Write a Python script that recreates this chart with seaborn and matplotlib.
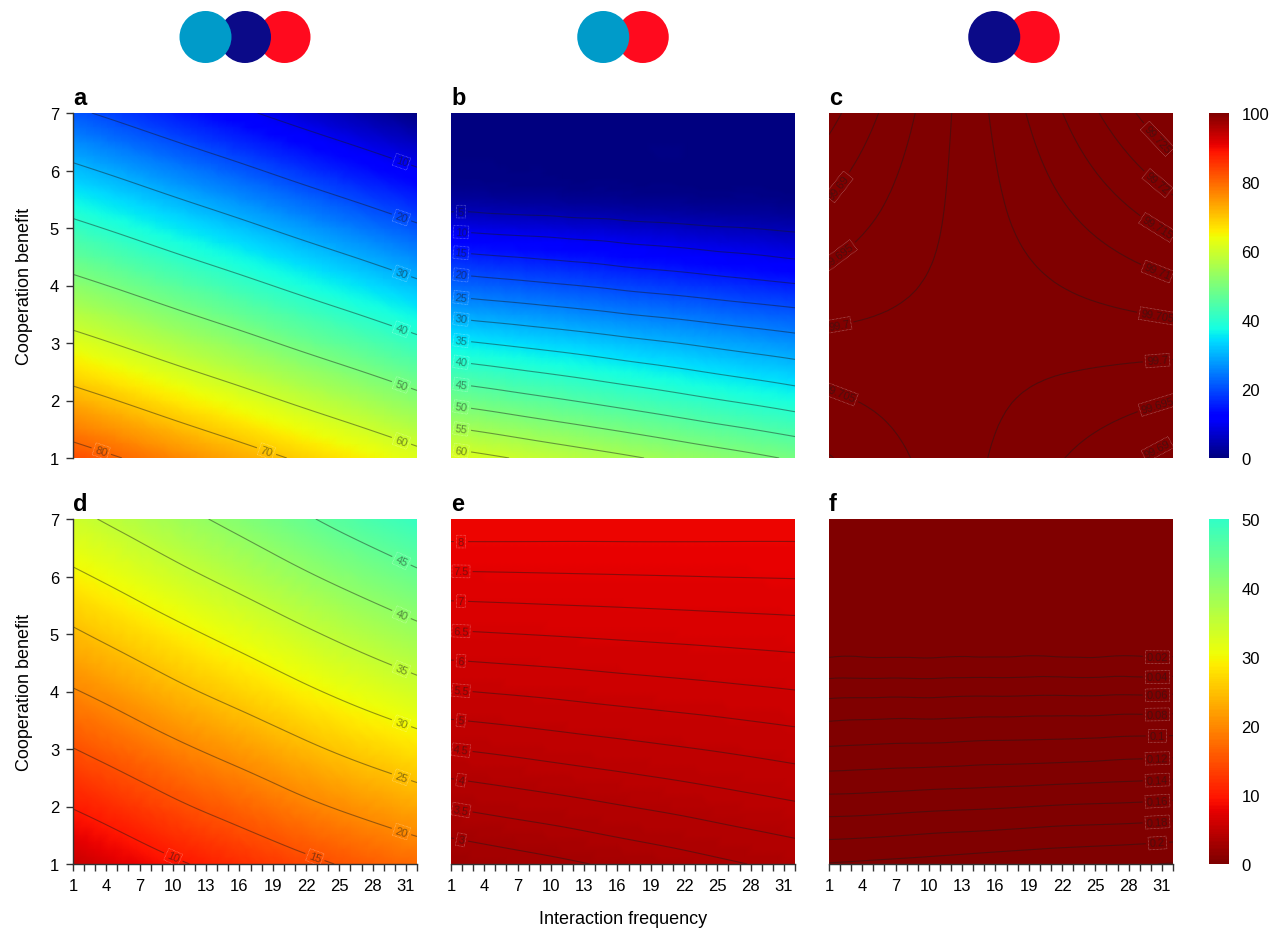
import numpy as np
import matplotlib
matplotlib.use('Agg')
import matplotlib.pyplot as plt
import seaborn as sns
from matplotlib.colors import ListedColormap, Normalize
from matplotlib.cm import ScalarMappable
from matplotlib.patches import Circle
from matplotlib.tri import Triangulation, UniformTriRefiner

# grid nodes (interaction frequency across, cooperation benefit up)
freq = [1, 6, 11, 16, 21, 26, 32]
benefit = [1, 2, 3, 4, 5, 6, 7]
benefit_b = [1, 2, 3, 4, 5, 5.5, 6, 7]

# values, rows = benefit from bottom to top
coop_a = [
    [82.9, 79.6, 76.2, 72.9, 69.5, 66.2, 62.1],
    [72.6, 69.3, 65.9, 62.6, 59.2, 55.9, 51.8],
    [62.3, 59.0, 55.6, 52.3, 48.9, 45.6, 41.5],
    [52.0, 48.7, 45.3, 42.0, 38.6, 35.3, 31.2],
    [41.7, 38.4, 35.0, 31.7, 28.3, 25.0, 20.9],
    [31.4, 28.1, 24.7, 21.4, 18.0, 14.7, 10.6],
    [21.1, 17.8, 14.4, 11.1, 7.7, 4.4, 0.3],
]
coop_b = [
    [62.1, 60.1, 58.0, 56.0, 53.9, 51.9, 49.4],
    [48.9, 47.1, 45.3, 43.5, 41.7, 39.9, 37.8],
    [35.9, 34.4, 33.0, 31.5, 30.1, 28.6, 26.9],
    [22.6, 21.4, 20.3, 19.1, 18.0, 16.8, 15.4],
    [9.1, 8.3, 7.6, 6.8, 6.0, 5.2, 4.3],
    [2.5, 2.2, 1.9, 1.6, 1.3, 1.0, 0.6],
    [0.4, 0.4, 0.3, 0.3, 0.3, 0.2, 0.2],
    [0.0, 0.0, 0.0, 0.0, 0.0, 0.0, 0.0],
]
coop_c = [
    [99.7103, 99.7067, 99.7031, 99.6995, 99.6959, 99.6923, 99.6880],
    [99.7058, 99.7041, 99.7023, 99.7006, 99.6988, 99.6971, 99.6950],
    [99.7013, 99.7014, 99.7015, 99.7016, 99.7018, 99.7019, 99.7020],
    [99.6968, 99.6988, 99.7007, 99.7027, 99.7047, 99.7066, 99.7090],
    [99.6923, 99.6961, 99.6999, 99.7038, 99.7076, 99.7114, 99.7160],
    [99.6878, 99.6935, 99.6992, 99.7048, 99.7105, 99.7162, 99.7230],
    [99.6833, 99.6908, 99.6984, 99.7059, 99.7134, 99.7210, 99.7300],
]
sub_d = [
    [5.5, 7.7, 9.8, 11.8, 13.7, 15.5, 17.4],
    [10.2, 12.4, 14.7, 16.7, 18.8, 20.7, 22.8],
    [14.9, 17.2, 19.5, 21.6, 23.8, 25.9, 28.1],
    [19.7, 22.0, 24.4, 26.6, 28.9, 31.1, 33.5],
    [24.4, 26.8, 29.2, 31.5, 33.9, 36.2, 38.8],
    [29.2, 31.6, 34.1, 36.5, 39.0, 41.4, 44.2],
    [33.9, 36.4, 38.9, 41.4, 44.0, 46.6, 49.5],
]
sub_e = [
    [2.56, 2.74, 2.91, 3.09, 3.26, 3.44, 3.65],
    [3.53, 3.68, 3.82, 3.97, 4.11, 4.26, 4.43],
    [4.50, 4.61, 4.73, 4.84, 4.95, 5.06, 5.20],
    [5.47, 5.55, 5.63, 5.72, 5.80, 5.88, 5.98],
    [6.44, 6.49, 6.54, 6.59, 6.64, 6.69, 6.75],
    [7.41, 7.43, 7.45, 7.47, 7.49, 7.51, 7.53],
    [8.38, 8.37, 8.35, 8.34, 8.33, 8.31, 8.30],
]
sub_f = [
    [0.201, 0.204, 0.207, 0.211, 0.214, 0.217, 0.221],
    [0.151, 0.153, 0.156, 0.158, 0.161, 0.163, 0.166],
    [0.102, 0.104, 0.105, 0.107, 0.108, 0.110, 0.112],
    [0.053, 0.054, 0.054, 0.055, 0.056, 0.056, 0.057],
    [0.004, 0.004, 0.004, 0.004, 0.004, 0.004, 0.004],
    [0.001, 0.001, 0.001, 0.001, 0.001, 0.001, 0.001],
    [0.000, 0.000, 0.000, 0.000, 0.000, 0.000, 0.000],
]

levels_a = [10, 20, 30, 40, 50, 60, 70, 80]
levels_b = [5, 10, 15, 20, 25, 30, 35, 40, 45, 50, 55, 60]
levels_c = [99.685, 99.69, 99.695, 99.7, 99.705, 99.71, 99.715, 99.72, 99.725, 99.73]
levels_d = [10, 15, 20, 25, 30, 35, 40, 45]
levels_e = [3, 3.5, 4, 4.5, 5, 5.5, 6, 6.5, 7, 7.5, 8]
levels_f = [0.02, 0.04, 0.06, 0.08, 0.1, 0.12, 0.14, 0.16, 0.18, 0.2, 0.22]

freq_labels = [1, 4, 7, 10, 13, 16, 19, 22, 25, 28, 31]
benefit_ticks = [1, 2, 3, 4, 5, 6, 7]
top_ticks = [0, 20, 40, 60, 80, 100]
bottom_ticks = [0, 10, 20, 30, 40, 50]

# strain symbols above each column
strain_colors = {'cyan': '#009BC9', 'navy': '#0B0A88', 'red': '#FF0A1E'}
groups = [['cyan', 'navy', 'red'], ['cyan', 'red'], ['navy', 'red']]
group_x = [245, 623, 1014]

sns.set_theme(style='ticks')
plt.rcParams['font.family'] = ['Liberation Sans', 'DejaVu Sans']
plt.rcParams.update({'text.color': 'black', 'axes.labelcolor': 'black',
                     'xtick.labelcolor': 'black', 'ytick.labelcolor': 'black'})

jet = matplotlib.colormaps['jet']
jet_low = ListedColormap(jet(np.linspace(1.0, 0.41, 256)))

W, H = 1270, 929
fig = plt.figure(figsize=(W / 100, H / 100), dpi=100)


def px_box(left, top, w, h):
    return [left / W, (H - top - h) / H, w / W, h / H]


def label_contours(ax, cs, x_at, keep=None, bottom=None):
    pts = []
    for level, path in zip(cs.levels, cs.get_paths()):
        if keep is not None and not (keep[0] - 1e-9 <= level <= keep[1] + 1e-9):
            continue
        for seg in path.to_polygons(closed_only=False):
            if len(seg) < 2:
                continue
            xs, ys = seg[:, 0], seg[:, 1]
            for xt in x_at:
                if xs.min() <= xt <= xs.max():
                    o = np.argsort(xs)
                    pts.append((xt, np.interp(xt, xs[o], ys[o])))
                elif bottom is not None and ys.min() <= bottom <= ys.max():
                    o = np.argsort(ys)
                    pts.append((np.interp(bottom, ys[o], xs[o]), bottom))
    if not pts:
        return
    ax.clabel(cs, manual=pts, inline=True, inline_spacing=4, fmt='%g', fontsize=8)
    for t in cs.labelTexts:
        t.set_color('k')
        t.set_alpha(0.5)
        t.set_bbox(dict(boxstyle='square,pad=0.12', fc='none', ec='white',
                        lw=0.5, ls=(0, (1, 1)), alpha=0.45))


panels = [
    ('a', benefit, coop_a, levels_a, jet, 0, 100, dict(x_at=[30.6], bottom=1.12)),
    ('b', benefit_b, coop_b, levels_b, jet, 0, 100, dict(x_at=[1.9])),
    ('c', benefit, coop_c, levels_c, jet, 0, 100, dict(x_at=[1.9, 30.6], keep=(99.69, 99.725))),
    ('d', benefit, sub_d, levels_d, jet_low, 0, 50, dict(x_at=[30.6], bottom=1.12)),
    ('e', benefit, sub_e, levels_e, jet_low, 0, 50, dict(x_at=[1.9])),
    ('f', benefit, sub_f, levels_f, jet_low, 0, 50, dict(x_at=[30.6])),
]

col_left = [73, 451, 829]
row_top = [114, 520]
size = 345
axes = []
for i, (name, ys, z, levels, cmap, vmin, vmax, lab) in enumerate(panels):
    r, c = divmod(i, 3)
    ax = fig.add_axes(px_box(col_left[c], row_top[r], size - 1, size))
    axes.append(ax)
    X, Y = np.meshgrid(freq, ys)
    tri = Triangulation(X.ravel(), Y.ravel())
    tri_f, z_f = UniformTriRefiner(tri).refine_field(np.array(z).ravel(), subdiv=3)
    ax.tripcolor(tri_f, z_f, shading='gouraud', cmap=cmap, vmin=vmin, vmax=vmax)
    cs = ax.tricontour(tri_f, z_f, levels=levels, colors='k', linewidths=0.8, alpha=0.45)
    label_contours(ax, cs, **lab)
    ax.set_xlim(1, 32)
    ax.set_ylim(1, 7)

    for side in ['top', 'right']:
        ax.spines[side].set_visible(False)
    ax.spines['left'].set_visible(c == 0)
    ax.spines['bottom'].set_visible(r == 1)
    for side in ['left', 'bottom']:
        ax.spines[side].set_color('#333333')
        ax.spines[side].set_linewidth(1.0)

    ax.tick_params(direction='out', length=5, width=1.0, color='#333333',
                   labelsize=12, pad=5)
    if c == 0:
        ax.set_yticks(benefit_ticks)
        ax.set_ylabel('Cooperation benefit', fontsize=13, labelpad=12)
    else:
        ax.set_yticks([])
    if r == 1:
        ticks = np.arange(1, 33)
        ax.set_xticks(ticks)
        ax.set_xticklabels([str(t) if t in freq_labels else '' for t in ticks])
    else:
        ax.set_xticks([])
    if i == 4:
        ax.set_xlabel('Interaction frequency', fontsize=13, labelpad=12)

    ax.text(0.0, 1.012, name, transform=ax.transAxes, fontsize=17,
            fontweight='bold', ha='left', va='bottom')

# colorbars
for r, (cmap, vmax, ticks) in enumerate([(jet, 100, top_ticks), (jet_low, 50, bottom_ticks)]):
    cax = fig.add_axes(px_box(1209, row_top[r], 20, size))
    cb = fig.colorbar(ScalarMappable(norm=Normalize(0, vmax), cmap=cmap), cax=cax)
    cb.set_ticks(ticks)
    cb.outline.set_visible(False)
    cax.tick_params(length=0, labelsize=12, pad=9)

# strain symbols
deco = fig.add_axes([0, 0, 1, 1], zorder=5)
deco.set_xlim(0, W)
deco.set_ylim(H, 0)
deco.axis('off')
for cx, grp in zip(group_x, groups):
    offs = (np.arange(len(grp)) - (len(grp) - 1) / 2) * 39.5
    for name, dx in reversed(list(zip(grp, offs))):
        deco.add_patch(Circle((cx + dx, 38), 26, color=strain_colors[name], lw=0))

fig.savefig('out.png', dpi=100)
